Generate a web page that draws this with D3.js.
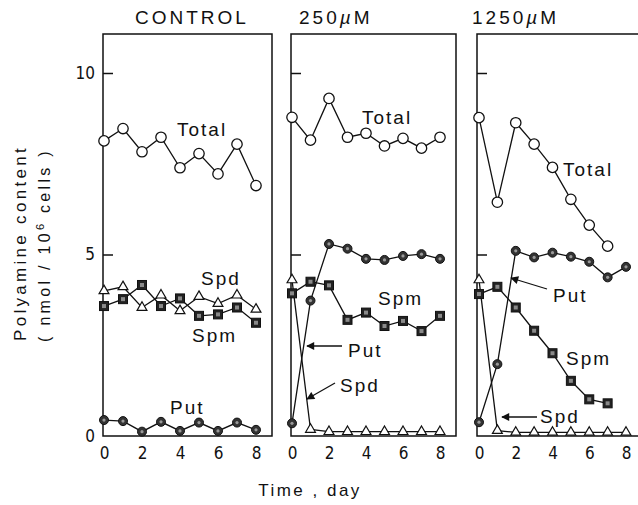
<!DOCTYPE html>
<html>
<head>
<meta charset="utf-8">
<script src="https://cdn.jsdelivr.net/npm/d3@7/dist/d3.min.js"></script>
<style>
  html, body { margin: 0; padding: 0; background: #fff; }
  svg { display: block; }
  text { font-family: "Liberation Sans", Arial, Helvetica, sans-serif; fill: #111; }
</style>
</head>
<body>
<svg id="chart" width="638" height="505"></svg>
<script>
// ---------- data ----------
const days = [0, 1, 2, 3, 4, 5, 6, 7, 8];
const xTicks = [0, 2, 4, 6, 8];
const yTicks = [0, 5, 10];
const panelTitles = ["CONTROL", "250µM", "1250µM"];
const seriesNames = ["Total", "Spd", "Spm", "Put"];

const controlTotal = [8.13, 8.47, 7.83, 8.23, 7.39, 7.78, 7.22, 8.04, 6.90];
const controlSpd   = [4.00, 4.11, 3.54, 3.88, 3.45, 3.84, 3.65, 3.88, 3.49];
const controlSpm   = [3.58, 3.77, 4.16, 3.58, 3.79, 3.31, 3.35, 3.54, 3.12];
const controlPut   = [0.44, 0.41, 0.12, 0.39, 0.14, 0.37, 0.14, 0.37, 0.17];

const mid250Total = [8.78, 8.15, 9.30, 8.23, 8.34, 7.99, 8.20, 7.93, 8.23];
const mid250Spd   = [4.30, 0.18, 0.12, 0.12, 0.12, 0.12, 0.12, 0.12, 0.12];
const mid250Spm   = [3.93, 4.25, 4.15, 3.20, 3.40, 3.03, 3.17, 2.89, 3.31];
const mid250Put   = [0.35, 3.73, 5.29, 5.16, 4.88, 4.85, 4.96, 5.01, 4.88];

const high1250Total = [8.77, 6.44, 8.63, 8.04, 7.40, 6.52, 5.81, 5.23];
const high1250Spd   = [4.30, 0.15, 0.10, 0.10, 0.10, 0.10, 0.10, 0.10, 0.10];
const high1250Spm   = [3.91, 4.11, 3.54, 2.90, 2.28, 1.52, 1.01, 0.90];
const high1250Put   = [0.38, 1.98, 5.10, 4.92, 5.05, 4.94, 4.80, 4.37, 4.66];

// ---------- layout ----------
const svg = d3.select("#chart");
const plotTop = 34, plotBottom = 436;
const y = d3.scaleLinear().domain([0, 10]).range([plotBottom, 73]);

const panels = [
  { title: panelTitles[0], titleX: 135, left: 103, right: 272, x0: 104, x1: 256,
    series: { Total: controlTotal, Spd: controlSpd, Spm: controlSpm, Put: controlPut },
    labels: [
      { t: "Total", x: 177, y: 136 }, { t: "Spd", x: 201, y: 285 },
      { t: "Spm", x: 192, y: 342 }, { t: "Put", x: 170, y: 414 }],
    arrows: [] },
  { title: panelTitles[1], titleX: 299, left: 291, right: 456, x0: 292, x1: 440,
    series: { Total: mid250Total, Spd: mid250Spd, Spm: mid250Spm, Put: mid250Put },
    labels: [
      { t: "Total", x: 362, y: 124 }, { t: "Spm", x: 378, y: 305 },
      { t: "Put", x: 348, y: 357 }, { t: "Spd", x: 340, y: 392 }],
    arrows: [ { x1: 342, y1: 346, x2: 307, y2: 346 }, { x1: 335, y1: 383, x2: 307, y2: 399 } ] },
  { title: panelTitles[2], titleX: 472, left: 477, right: 660, x0: 479, x1: 626,
    series: { Total: high1250Total, Spd: high1250Spd, Spm: high1250Spm, Put: high1250Put },
    labels: [
      { t: "Total", x: 563, y: 176 }, { t: "Put", x: 553, y: 302 },
      { t: "Spm", x: 566, y: 365 }, { t: "Spd", x: 540, y: 423 }],
    arrows: [ { x1: 547, y1: 289, x2: 511, y2: 278 }, { x1: 537, y1: 417, x2: 502, y2: 417 } ] }
];

// arrow marker
svg.append("defs").append("marker")
  .attr("id", "arrowHead").attr("viewBox", "0 0 10 10")
  .attr("refX", 9).attr("refY", 5)
  .attr("markerWidth", 10).attr("markerHeight", 8)
  .attr("markerUnits", "userSpaceOnUse")
  .attr("orient", "auto")
  .append("path").attr("d", "M0,0 L10,5 L0,10 Z").attr("fill", "#111");

const ink = "#111";

panels.forEach((p, pi) => {
  const x = d3.scaleLinear().domain([0, 8]).range([p.x0, p.x1]);
  const g = svg.append("g");

  // box
  g.append("path")
    .attr("d", `M${p.left},${plotBottom} L${p.left},${plotTop} L${p.right},${plotTop} L${p.right},${plotBottom} Z`)
    .attr("fill", "none").attr("stroke", ink).attr("stroke-width", 1.5);

  // inner ticks on left
  const inner = g.append("g").attr("transform", `translate(${p.left},0)`)
    .call(d3.axisRight(y).tickValues([5, 10]).tickSize(10).tickFormat(""));
  inner.select(".domain").remove();
  inner.selectAll("line").attr("stroke", ink).attr("stroke-width", 1.5);

  // x axis labels
  const xa = g.append("g").attr("transform", `translate(0,${plotBottom})`)
    .call(d3.axisBottom(x).tickValues(xTicks).tickSize(0).tickPadding(11));
  xa.select(".domain").remove();
  xa.selectAll("text")
    .style("font-family", '"Liberation Sans Narrow", "DejaVu Sans Condensed", sans-serif')
    .style("font-size", "17px").attr("fill", ink);

  // y axis labels on first panel
  if (pi === 0) {
    const ya = g.append("g").attr("transform", `translate(${p.left},0)`)
      .call(d3.axisLeft(y).tickValues(yTicks).tickSize(0).tickPadding(8));
    ya.select(".domain").remove();
    ya.selectAll("text")
      .style("font-family", '"Liberation Sans Narrow", "DejaVu Sans Condensed", sans-serif')
      .style("font-size", "17px").attr("fill", ink);
  }

  // title
  const tt = svg.append("text").attr("x", p.titleX).attr("y", 24)
    .style("font-size", "19px").style("letter-spacing", "3px");
  const m = p.title.match(/^(\d+)µ(.*)$/);
  if (m) {
    tt.append("tspan").text(m[1]);
    tt.append("tspan").style("font-style", "italic").text("µ");
    tt.append("tspan").text(m[2]);
  } else {
    tt.text(p.title);
  }

  const line = d3.line().x((d, i) => x(days[i])).y(d => y(d));

  // lines
  ["Spd", "Spm", "Put", "Total"].forEach(name => {
    g.append("path").datum(p.series[name]).attr("d", line)
      .attr("fill", "none").attr("stroke", ink).attr("stroke-width", 1.3);
  });

  // markers
  const pts = name => p.series[name].map((v, i) => ({ d: days[i], v }));

  g.selectAll(".spd").data(pts("Spd")).join("path")
    .attr("transform", d => `translate(${x(d.d)},${y(d.v)})`)
    .attr("d", d3.symbol(d3.symbolTriangle, 42))
    .attr("fill", "#fff").attr("stroke", ink).attr("stroke-width", 1.2);

  const sq = g.selectAll(".spm").data(pts("Spm")).join("g")
    .attr("transform", d => `translate(${x(d.d)},${y(d.v)})`);
  sq.append("rect").attr("x", -4.5).attr("y", -4.5).attr("width", 9).attr("height", 9)
    .attr("fill", "#222").attr("stroke", ink);
  sq.append("rect").attr("x", -2).attr("y", -2).attr("width", 4).attr("height", 4)
    .attr("fill", "#8a8a8a");

  const pc = g.selectAll(".put").data(pts("Put")).join("g")
    .attr("transform", d => `translate(${x(d.d)},${y(d.v)})`);
  pc.append("circle").attr("r", 4.5).attr("fill", "#333").attr("stroke", ink);
  pc.append("circle").attr("r", 1.6).attr("fill", "#999");

  g.selectAll(".tot").data(pts("Total")).join("circle")
    .attr("cx", d => x(d.d)).attr("cy", d => y(d.v)).attr("r", 5.2)
    .attr("fill", "#fff").attr("stroke", ink).attr("stroke-width", 1.3);

  // series labels
  p.labels.forEach(l => {
    g.append("text").attr("x", l.x).attr("y", l.y).text(l.t)
      .style("font-size", "19px").style("letter-spacing", "2px");
  });

  // arrows
  p.arrows.forEach(a => {
    g.append("line").attr("x1", a.x1).attr("y1", a.y1).attr("x2", a.x2).attr("y2", a.y2)
      .attr("stroke", ink).attr("stroke-width", 1.3).attr("marker-end", "url(#arrowHead)");
  });
});

// axis titles
svg.append("text").attr("x", 310).attr("y", 496).attr("text-anchor", "middle")
  .style("font-size", "17px").style("letter-spacing", "2.5px").text("Time , day");

const yt = svg.append("g");
yt.append("text").attr("transform", "translate(26,243) rotate(-90)")
  .attr("text-anchor", "middle")
  .style("font-size", "17px").style("letter-spacing", "3.3px").text("Polyamine content");
const yt2 = yt.append("text").attr("transform", "translate(50,245) rotate(-90)")
  .attr("text-anchor", "middle")
  .style("font-size", "16px").style("letter-spacing", "3.3px");
yt2.append("tspan").text("( nmol / 10");
yt2.append("tspan").attr("dy", -6).style("font-size", "11px").text("6");
yt2.append("tspan").attr("dy", 6).text(" cells )");
</script>
</body>
</html>
